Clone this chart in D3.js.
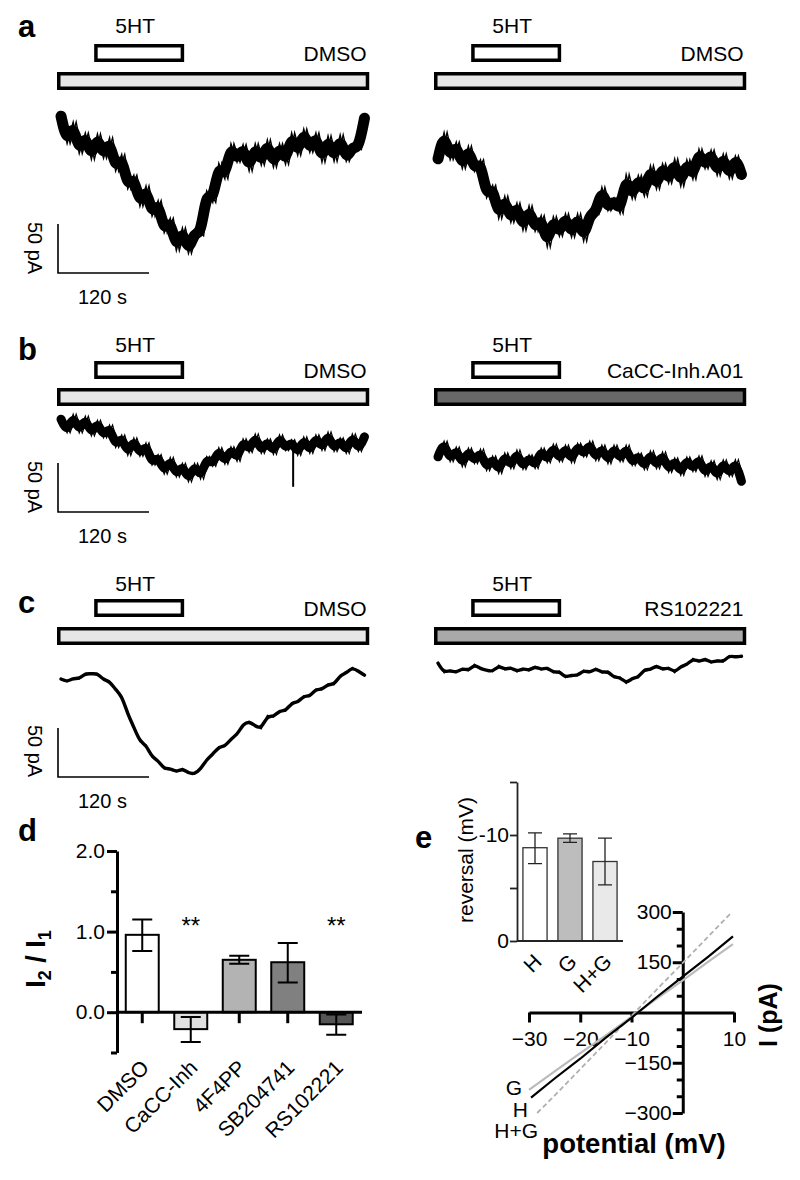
<!DOCTYPE html>
<html lang="en">
<head>
<meta charset="UTF-8">
<title>5HT currents</title>
<style>
  body { margin: 0; background: #fff; }
  svg text { font-family: "Liberation Sans", Arial, sans-serif; }
</style>
</head>
<body>
<svg id="fig" width="800" height="1180"></svg>
<script src="https://d3js.org/d3.v7.min.js"></script>
<script>
// ---- data: current traces (pA relative to start), sampled every 8 s ----
var sampleTimes = [4,12,20,28,36,44,52,60,68,76,84,92,100,108,116,124,132,140,148,156,164,172,180,188,196,204,212,220,228,236,244,252,260,268,276,284,292,300,308,316,324,332,340,348,356,364,372,380,388,396,404];

var traceALeft = [12,-16,6,-26,-5,-32,-6,-31,-10,-44,-27,-62,-48,-80,-59,-90,-74,-107,-92,-125,-102,-128,-105,-110,-64,-76,-36,-52,-16,-35,-17,-44,-16,-38,-12,-40,-16,-37,-5,-28,-1,-25,-5,-35,-8,-34,-7,-34,-18,-22,10];
var traceARight = [-11,16,-12,6,-21,2,-24,-12,-51,-38,-72,-49,-76,-56,-84,-59,-85,-69,-101,-70,-90,-67,-91,-67,-95,-66,-68,-40,-64,-51,-67,-27,-52,-28,-49,-18,-42,-16,-36,-11,-39,-12,-32,-1,-21,-2,-28,-6,-31,-8,-27];
var traceBLeft = [9,-5,14,-5,12,-8,8,-10,3,-20,-7,-28,-10,-29,-15,-38,-27,-47,-30,-50,-36,-55,-36,-52,-29,-39,-20,-37,-19,-34,-11,-25,-6,-26,-11,-27,-7,-23,-12,-28,-9,-26,-7,-23,-4,-24,-10,-26,-6,-24,-9];
var traceBRight = [-7,9,-12,3,-17,2,-14,1,-21,-6,-24,-3,-19,0,-20,-5,-19,2,-13,6,-12,5,-13,7,-7,9,-11,5,-14,5,-12,5,-16,-3,-20,-1,-19,-2,-23,-8,-26,-7,-22,-6,-27,-11,-30,-10,-27,-10,-32];
var traceCLeft = [2,-1,3,2,8,7,8,1,0,-9,-15,-34,-47,-62,-65,-78,-81,-90,-89,-93,-89,-94,-95,-90,-80,-75,-67,-67,-59,-55,-44,-41,-46,-49,-35,-37,-30,-31,-22,-22,-15,-16,-8,-9,-3,-4,6,8,14,10,6];
var traceCRight = [7,-3,0,-3,2,-1,6,1,0,-2,5,0,3,-2,2,-1,4,0,3,-3,-1,-8,-5,-6,0,-3,2,-3,-1,-8,-7,-14,-8,-8,1,0,5,0,3,-3,4,5,12,8,12,7,10,8,15,13,14];

// single fast downward transient in the b (DMSO) trace
var spikeBLeft = { t: 310, from: -16, to: -60 };

var drugNames = [["DMSO", "DMSO"], ["DMSO", "CaCC-Inh.A01"], ["DMSO", "RS102221"]];
var puffWindow = [50, 164];   // 5HT application, s
var bathWindow = [1, 408];    // drug bath, s
var scaleBarTime = 120;       // s
var scaleBarCurrent = 50;     // pA

// ---- data: panel d ----
var ratioGroups = ["DMSO", "CaCC-Inh", "4F4PP", "SB204741", "RS102221"];
var ratioMean = [0.96, -0.21, 0.65, 0.62, -0.15];
var ratioLow = [0.76, -0.37, 0.60, 0.37, -0.28];
var ratioHigh = [1.15, -0.06, 0.70, 0.86, -0.03];
var ratioStars = ["", "**", "", "", "**"];

// ---- data: panel e ----
var revGroups = ["H", "G", "H+G"];
var revMean = [8.8, 9.7, 7.5];
var revLow = [7.3, 9.3, 5.3];
var revHigh = [10.2, 10.1, 9.7];

var ivVoltH = [-29.6, -25, -20, -15, -10, -5, 0, 5, 9.8];
var ivCurH = [-254, -197, -138, -75, -16, 47, 107, 167, 227];
var ivVoltG = [-30, -25, -20, -15, -10, -5, 0, 5, 9.8];
var ivCurG = [-231, -176, -121, -68, -13, 42, 96, 152, 204];
var ivVoltHG = [-28.4, -25, -20, -15, -10, -5, 0, 5, 9.6];
var ivCurHG = [-300, -248, -169, -90, -10, 70, 148, 227, 300];

// ---- styles ----
var bathFill = { "DMSO": "#e6e6e6", "CaCC-Inh.A01": "#686868", "RS102221": "#a9a9a9" };
var ratioFill = ["#ffffff", "#e0e0e0", "#b3b3b3", "#808080", "#555555"];
var revFill = ["#ffffff", "#bdbdbd", "#e9e9e9"];
var labelSize = 21;

var svg = d3.select("#fig");
var traces = [[traceALeft, traceARight], [traceBLeft, traceBRight], [traceCLeft, traceCRight]];

var rowLayout = [
  { letter: "a", letterY: 37, puffTextY: 33, puffY: 44, bathY: 72, drugTextY: 61, barBottom: 273, timeTextY: 304, pAY: 248, base: [128, 148], core: 11, jag: 1.4, copies: [0, 3] },
  { letter: "b", letterY: 360, puffTextY: 352, puffY: 361, bathY: 388, drugTextY: 378, barBottom: 512, timeTextY: 543, pAY: 487, base: [428, 450], core: 9, jag: 1.2, copies: [0, 3] },
  { letter: "c", letterY: 613, puffTextY: 591, puffY: 599, bathY: 627, drugTextY: 616, barBottom: 777, timeTextY: 808, pAY: 751, base: [681, 670], core: 3.4, jag: 1.1, copies: [0] }
];
var sideX = [58, 435];
var pxPerPA = 0.98;

rowLayout.forEach(function(row, r) {
  svg.append("text").attr("x", 18).attr("y", row.letterY)
    .attr("font-size", 31).attr("font-weight", "bold").text(row.letter);

  [0, 1].forEach(function(s) {
    var x = d3.scaleLinear().domain([0, 410]).range([sideX[s], sideX[s] + 311]);
    var y = d3.scaleLinear().domain([0, -scaleBarCurrent])
      .range([row.base[s], row.base[s] + scaleBarCurrent * pxPerPA]);
    var g = svg.append("g");

    // 5HT puff box
    g.append("rect")
      .attr("x", x(puffWindow[0])).attr("y", row.puffY + 1.75)
      .attr("width", x(puffWindow[1]) - x(puffWindow[0])).attr("height", 14.5)
      .attr("fill", "#fff").attr("stroke", "#000").attr("stroke-width", 3.5);
    g.append("text")
      .attr("x", (x(puffWindow[0]) + x(puffWindow[1])) / 2 - 4).attr("y", row.puffTextY)
      .attr("text-anchor", "middle").attr("font-size", labelSize).text("5HT");

    // drug bath bar
    var drug = drugNames[r][s];
    g.append("rect")
      .attr("x", x(bathWindow[0])).attr("y", row.bathY + 1.75)
      .attr("width", x(bathWindow[1]) - x(bathWindow[0])).attr("height", 14.5)
      .attr("fill", bathFill[drug]).attr("stroke", "#000").attr("stroke-width", 3.5);
    g.append("text")
      .attr("x", x(bathWindow[1]) - 1).attr("y", row.drugTextY)
      .attr("text-anchor", "end").attr("font-size", labelSize).text(drug);

    // trace: smoothed core underneath, raw samples on top so the noise peaks stick out
    var vals = traces[r][s];
    var smooth = d3.line().x(function(d, i) { return x(sampleTimes[i]); }).y(function(d) { return y(d); }).curve(d3.curveBasis);
    var raw = d3.line().x(function(d, i) { return x(sampleTimes[i]); }).y(function(d) { return y(d); });
    g.append("path").datum(vals).attr("d", smooth)
      .attr("fill", "none").attr("stroke", "#000").attr("stroke-width", row.core)
      .attr("stroke-linejoin", "round").attr("stroke-linecap", "round");
    row.copies.forEach(function(dx) {
      g.append("path").datum(vals).attr("d", raw)
        .attr("transform", "translate(" + dx + ",0)")
        .attr("fill", "none").attr("stroke", "#000").attr("stroke-width", row.jag)
        .attr("stroke-miterlimit", 10);
    });
    if (r === 1 && s === 0) {
      g.append("line")
        .attr("x1", x(spikeBLeft.t)).attr("x2", x(spikeBLeft.t))
        .attr("y1", y(spikeBLeft.from)).attr("y2", y(spikeBLeft.to))
        .attr("stroke", "#000").attr("stroke-width", 2);
    }

    // scale bars (left only)
    if (s === 0) {
      var yb = d3.scaleLinear().domain([0, scaleBarCurrent]).range([row.barBottom, row.barBottom - scaleBarCurrent * pxPerPA]);
      g.append("path")
        .attr("d", "M" + x(0) + "," + yb(scaleBarCurrent) + "V" + yb(0) + "H" + x(scaleBarTime))
        .attr("fill", "none").attr("stroke", "#000").attr("stroke-width", 1.6);
      g.append("text")
        .attr("transform", "translate(35," + row.pAY + ") rotate(90)")
        .attr("text-anchor", "middle").attr("dy", "0.35em").attr("font-size", 20).text("50 pA");
      g.append("text").attr("x", x(0) + 20).attr("y", row.timeTextY)
        .attr("font-size", 20).text("120 s");
    }
  });
});

// ---- panel d ----
svg.append("text").attr("x", 18).attr("y", 841).attr("font-size", 31).attr("font-weight", "bold").text("d");

var yD = d3.scaleLinear().domain([-0.5, 2]).range([1052.5, 851]);
var xD = d3.scaleBand().domain(ratioGroups).range([118, 360.5]).paddingInner(0.32).paddingOuter(0.16);
var bw = xD.bandwidth();

var gD = svg.append("g");
ratioGroups.forEach(function(k) {
  gD.append("line").attr("x1", xD(k) + bw / 2).attr("x2", xD(k) + bw / 2)
    .attr("y1", yD(0)).attr("y2", yD(0) + 11).attr("stroke", "#000").attr("stroke-width", 3);
});
gD.selectAll("rect.bar").data(ratioMean).enter().append("rect")
  .attr("x", function(d, i) { return xD(ratioGroups[i]); })
  .attr("y", function(d) { return Math.min(yD(d), yD(0)); })
  .attr("width", bw)
  .attr("height", function(d) { return Math.abs(yD(d) - yD(0)); })
  .attr("fill", function(d, i) { return ratioFill[i]; })
  .attr("stroke", "#000").attr("stroke-width", 2);
ratioMean.forEach(function(m, i) {
  var cx = xD(ratioGroups[i]) + bw / 2;
  gD.append("path")
    .attr("d", "M" + (cx - 10) + "," + yD(ratioLow[i]) + "H" + (cx + 10) +
               "M" + cx + "," + yD(ratioLow[i]) + "V" + yD(ratioHigh[i]) +
               "M" + (cx - 10) + "," + yD(ratioHigh[i]) + "H" + (cx + 10))
    .attr("fill", "none").attr("stroke", "#000").attr("stroke-width", 2);
  if (ratioStars[i]) {
    gD.append("text").attr("x", cx).attr("y", 934).attr("text-anchor", "middle")
      .attr("font-size", 24).text(ratioStars[i]);
  }
  gD.append("text")
    .attr("transform", "translate(" + (cx + 8) + ",1069) rotate(-45)")
    .attr("text-anchor", "end").attr("font-size", labelSize).text(ratioGroups[i]);
});
gD.append("line").attr("x1", 117).attr("x2", 362).attr("y1", yD(0)).attr("y2", yD(0))
  .attr("stroke", "#000").attr("stroke-width", 3);

var axD = gD.append("g").attr("transform", "translate(117,0)")
  .call(d3.axisLeft(yD).tickValues([0, 1, 2]).tickFormat(d3.format(".1f")).tickSize(10).tickSizeOuter(0).tickPadding(2));
axD.select(".domain").attr("stroke-width", 3);
axD.selectAll(".tick line").attr("stroke-width", 3);
axD.selectAll(".tick text").attr("font-size", labelSize);
var axDm = gD.append("g").attr("transform", "translate(117,0)")
  .call(d3.axisLeft(yD).tickValues([-0.5, 0.5, 1.5]).tickFormat("").tickSize(6).tickSizeOuter(0));
axDm.select(".domain").remove();
axDm.selectAll(".tick line").attr("stroke-width", 3);

var yLab = gD.append("text").attr("transform", "translate(45,959) rotate(-90)")
  .attr("text-anchor", "middle").attr("font-size", 27).attr("font-weight", "bold");
yLab.append("tspan").text("I");
yLab.append("tspan").attr("font-size", 18).attr("dy", 6).text("2");
yLab.append("tspan").attr("dy", -6).text(" / I");
yLab.append("tspan").attr("font-size", 18).attr("dy", 6).text("1");

// ---- panel e: inset reversal bars ----
svg.append("text").attr("x", 415).attr("y", 848).attr("font-size", 31).attr("font-weight", "bold").text("e");

var yE = d3.scaleLinear().domain([0, 15]).range([941, 782]);
var xE = d3.scaleBand().domain(revGroups).range([517.5, 622.5]).paddingInner(0.31).paddingOuter(0.155);
var bwE = xE.bandwidth();
var gE = svg.append("g");
gE.append("text").attr("transform", "translate(473,860) rotate(-90)")
  .attr("text-anchor", "middle").attr("font-size", 21).text("reversal (mV)");
gE.selectAll("rect").data(revMean).enter().append("rect")
  .attr("x", function(d, i) { return xE(revGroups[i]); })
  .attr("y", function(d) { return yE(d); })
  .attr("width", bwE)
  .attr("height", function(d) { return yE(0) - yE(d); })
  .attr("fill", function(d, i) { return revFill[i]; })
  .attr("stroke", "#333").attr("stroke-width", 1.3);
revMean.forEach(function(m, i) {
  var cx = xE(revGroups[i]) + bwE / 2;
  gE.append("path")
    .attr("d", "M" + (cx - 7) + "," + yE(revLow[i]) + "H" + (cx + 7) +
               "M" + cx + "," + yE(revLow[i]) + "V" + yE(revHigh[i]) +
               "M" + (cx - 7) + "," + yE(revHigh[i]) + "H" + (cx + 7))
    .attr("fill", "none").attr("stroke", "#222").attr("stroke-width", 1.3);
  gE.append("text")
    .attr("transform", "translate(" + (cx + 8) + ",963) rotate(-45)")
    .attr("text-anchor", "end").attr("font-size", labelSize).text(revGroups[i]);
});
gE.append("line").attr("x1", 517).attr("x2", 623).attr("y1", yE(0)).attr("y2", yE(0))
  .attr("stroke", "#222").attr("stroke-width", 1.8);
var axE = gE.append("g").attr("transform", "translate(517,0)")
  .call(d3.axisLeft(yE).tickValues([0, 5, 10, 15])
    .tickFormat(function(d) { return d === 0 ? "0" : (d === 10 ? "-10" : ""); })
    .tickSize(7).tickSizeOuter(0).tickPadding(1));
axE.select(".domain").attr("stroke-width", 1.8).attr("stroke", "#222");
axE.selectAll(".tick line").attr("stroke-width", 1.8).attr("stroke", "#222");
axE.selectAll(".tick text").attr("font-size", labelSize);

// ---- panel e: I-V curves ----
var xV = d3.scaleLinear().domain([-30, 10]).range([529, 734]);
var yI = d3.scaleLinear().domain([-300, 300]).range([1113, 912]);
var gI = svg.append("g");

var axX = gI.append("g").attr("transform", "translate(0," + yI(0) + ")")
  .call(d3.axisBottom(xV).tickValues([-30, -20, -10, 10]).tickSize(10).tickSizeOuter(0).tickPadding(9));
axX.select(".domain").attr("stroke-width", 3);
axX.selectAll(".tick line").attr("stroke-width", 3);
axX.selectAll(".tick text").attr("font-size", labelSize);

var axY = gI.append("g").attr("transform", "translate(" + xV(0) + ",0)")
  .call(d3.axisLeft(yI).tickValues([-300, -150, 150, 300]).tickSize(10).tickSizeOuter(0).tickPadding(1));
axY.select(".domain").attr("stroke-width", 3);
axY.selectAll(".tick line").attr("stroke-width", 3);
axY.selectAll(".tick text").attr("font-size", labelSize);
var axYm = gI.append("g").attr("transform", "translate(" + xV(0) + ",0)")
  .call(d3.axisLeft(yI).tickValues([-250, -200, -100, -50, 50, 100, 200, 250]).tickFormat("").tickSize(6).tickSizeOuter(0));
axYm.select(".domain").remove();
axYm.selectAll(".tick line").attr("stroke-width", 3);

function ivLine(volts) {
  return d3.line().x(function(d, i) { return xV(volts[i]); }).y(function(d) { return yI(d); });
}
gI.append("path").datum(ivCurG).attr("d", ivLine(ivVoltG))
  .attr("fill", "none").attr("stroke", "#bbbbbb").attr("stroke-width", 2.2);
gI.append("path").datum(ivCurHG).attr("d", ivLine(ivVoltHG))
  .attr("fill", "none").attr("stroke", "#b0b0b0").attr("stroke-width", 1.8).attr("stroke-dasharray", "5,3");
gI.append("path").datum(ivCurH).attr("d", ivLine(ivVoltH))
  .attr("fill", "none").attr("stroke", "#000").attr("stroke-width", 2.2);

gI.append("text").attr("x", 522).attr("y", 1095).attr("text-anchor", "end").attr("font-size", labelSize).text("G");
gI.append("text").attr("x", 528).attr("y", 1117).attr("text-anchor", "end").attr("font-size", labelSize).text("H");
gI.append("text").attr("x", 538).attr("y", 1138).attr("text-anchor", "end").attr("font-size", labelSize).text("H+G");

gI.append("text").attr("transform", "translate(777,1015) rotate(-90)")
  .attr("text-anchor", "middle").attr("font-size", 25).attr("font-weight", "bold").text("I (pA)");
gI.append("text").attr("x", 634).attr("y", 1153)
  .attr("text-anchor", "middle").attr("font-size", 27.5).attr("font-weight", "bold").text("potential (mV)");
</script>
</body>
</html>
